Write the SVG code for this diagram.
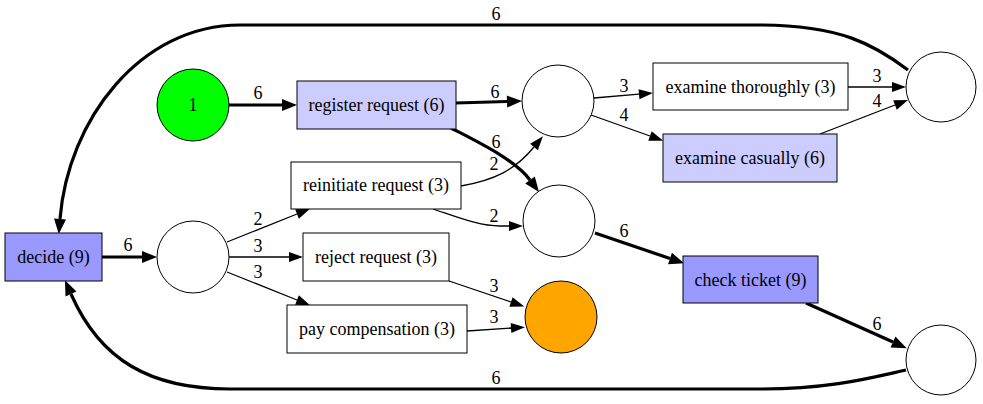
<svg xmlns="http://www.w3.org/2000/svg" width="983" height="404" viewBox="0 0 983 404" font-family="'Liberation Serif', 'Times New Roman', serif">
<defs>
<style>
.n{stroke:#000;stroke-width:1}
.t{font-family:'Liberation Serif','Times New Roman',serif;font-size:18px;text-anchor:middle;fill:#000}
.e{fill:none;stroke:#000;stroke-width:1.3}
.E{fill:none;stroke:#000;stroke-width:3.2}
</style>
<marker id="a" markerUnits="userSpaceOnUse" markerWidth="15" markerHeight="11" refX="0" refY="5" orient="auto" overflow="visible"><path d="M0,0 L14,5 L0,10 z" fill="#000"/></marker>
<marker id="A" markerUnits="userSpaceOnUse" markerWidth="16" markerHeight="13" refX="0" refY="6" orient="auto" overflow="visible"><path d="M0,0 L15,6 L0,12 z" fill="#000"/></marker>
</defs>
<rect width="983" height="404" fill="#fff"/>
<g id="edges">
<path class="E" d="M229,105 L282,105" marker-end="url(#A)"/>
<text class="t" x="258" y="99">6</text>
<path class="E" d="M456,103 L507,101.5" marker-end="url(#A)"/>
<text class="t" x="495" y="98">6</text>
<path class="E" d="M451,128 C480,143 515,160 530,180" marker-end="url(#A)"/>
<text class="t" x="496" y="148">6</text>
<path class="e" d="M594,98 L639,94.2" marker-end="url(#a)"/>
<text class="t" x="624" y="92">3</text>
<path class="e" d="M591,115 L650,136" marker-end="url(#a)"/>
<text class="t" x="624" y="121">4</text>
<path class="e" d="M848,87 L892,87" marker-end="url(#a)"/>
<text class="t" x="877" y="82">3</text>
<path class="e" d="M820,134 L895,105" marker-end="url(#a)"/>
<text class="t" x="877" y="107">4</text>
<path class="E" d="M908,70 C875,45 840,25 760,25 L240,25 C140,25 68,120 60,219" marker-end="url(#A)"/>
<text class="t" x="496" y="20">6</text>
<path class="e" d="M461,186 C495,180 515,170 534,147" marker-end="url(#a)"/>
<text class="t" x="494" y="170">2</text>
<path class="e" d="M433,209 C460,218 480,226 500,226 L509,226" marker-end="url(#a)"/>
<text class="t" x="494" y="222">2</text>
<path class="E" d="M102,257 L142,257" marker-end="url(#A)"/>
<text class="t" x="128" y="251">6</text>
<path class="e" d="M227,242 L297,214" marker-end="url(#a)"/>
<text class="t" x="258" y="225">2</text>
<path class="e" d="M229,257 L289,257" marker-end="url(#a)"/>
<text class="t" x="258" y="252">3</text>
<path class="e" d="M227,272 L297,300" marker-end="url(#a)"/>
<text class="t" x="258" y="278">3</text>
<path class="e" d="M449,281 L511,302" marker-end="url(#a)"/>
<text class="t" x="494" y="292">3</text>
<path class="e" d="M467,331 C480,330 495,329 511,328" marker-end="url(#a)"/>
<text class="t" x="494" y="323">3</text>
<path class="E" d="M595,233 L670,258.5" marker-end="url(#A)"/>
<text class="t" x="624" y="237">6</text>
<path class="E" d="M806,303 L893,342" marker-end="url(#A)"/>
<text class="t" x="877" y="330">6</text>
<path class="E" d="M906,370 C870,378 830,389 760,389 L230,389 C150,389 100,360 71,294" marker-end="url(#A)"/>
<text class="t" x="496" y="384">6</text>
</g>
<g id="start"><circle class="n" cx="193" cy="105" r="36" fill="#00ff00"/><text class="t" x="193" y="111">1</text></g>
<g id="register"><rect class="n" x="297" y="81" width="159" height="48" fill="#ccccff"/><text class="t" x="376.5" y="111">register request (6)</text></g>
<g id="p1"><circle class="n" cx="558" cy="101" r="36" fill="#fff"/></g>
<g id="thorough"><rect class="n" x="653" y="63" width="195" height="47" fill="#fff"/><text class="t" x="750.5" y="93">examine thoroughly (3)</text></g>
<g id="casual"><rect class="n" x="663" y="134" width="174" height="48" fill="#ccccff"/><text class="t" x="750" y="164">examine casually (6)</text></g>
<g id="p3"><circle class="n" cx="941" cy="87" r="35" fill="#fff"/></g>
<g id="decide"><rect class="n" x="5" y="233" width="97" height="48" fill="#9999ff"/><text class="t" x="53.5" y="263">decide (9)</text></g>
<g id="pd"><circle class="n" cx="193" cy="257" r="36" fill="#fff"/></g>
<g id="reinit"><rect class="n" x="291" y="162" width="170" height="47" fill="#fff"/><text class="t" x="376" y="191">reinitiate request (3)</text></g>
<g id="reject"><rect class="n" x="303" y="233" width="146" height="48" fill="#fff"/><text class="t" x="376" y="263">reject request (3)</text></g>
<g id="pay"><rect class="n" x="287" y="305" width="180" height="48" fill="#fff"/><text class="t" x="377" y="335">pay compensation (3)</text></g>
<g id="p2"><circle class="n" cx="559" cy="221" r="36" fill="#fff"/></g>
<g id="end"><circle class="n" cx="561" cy="317" r="36" fill="#ffa500"/></g>
<g id="check"><rect class="n" x="683" y="256" width="135" height="47" fill="#9999ff"/><text class="t" x="750.5" y="286">check ticket (9)</text></g>
<g id="p4"><circle class="n" cx="941" cy="360" r="35" fill="#fff"/></g>
</svg>
